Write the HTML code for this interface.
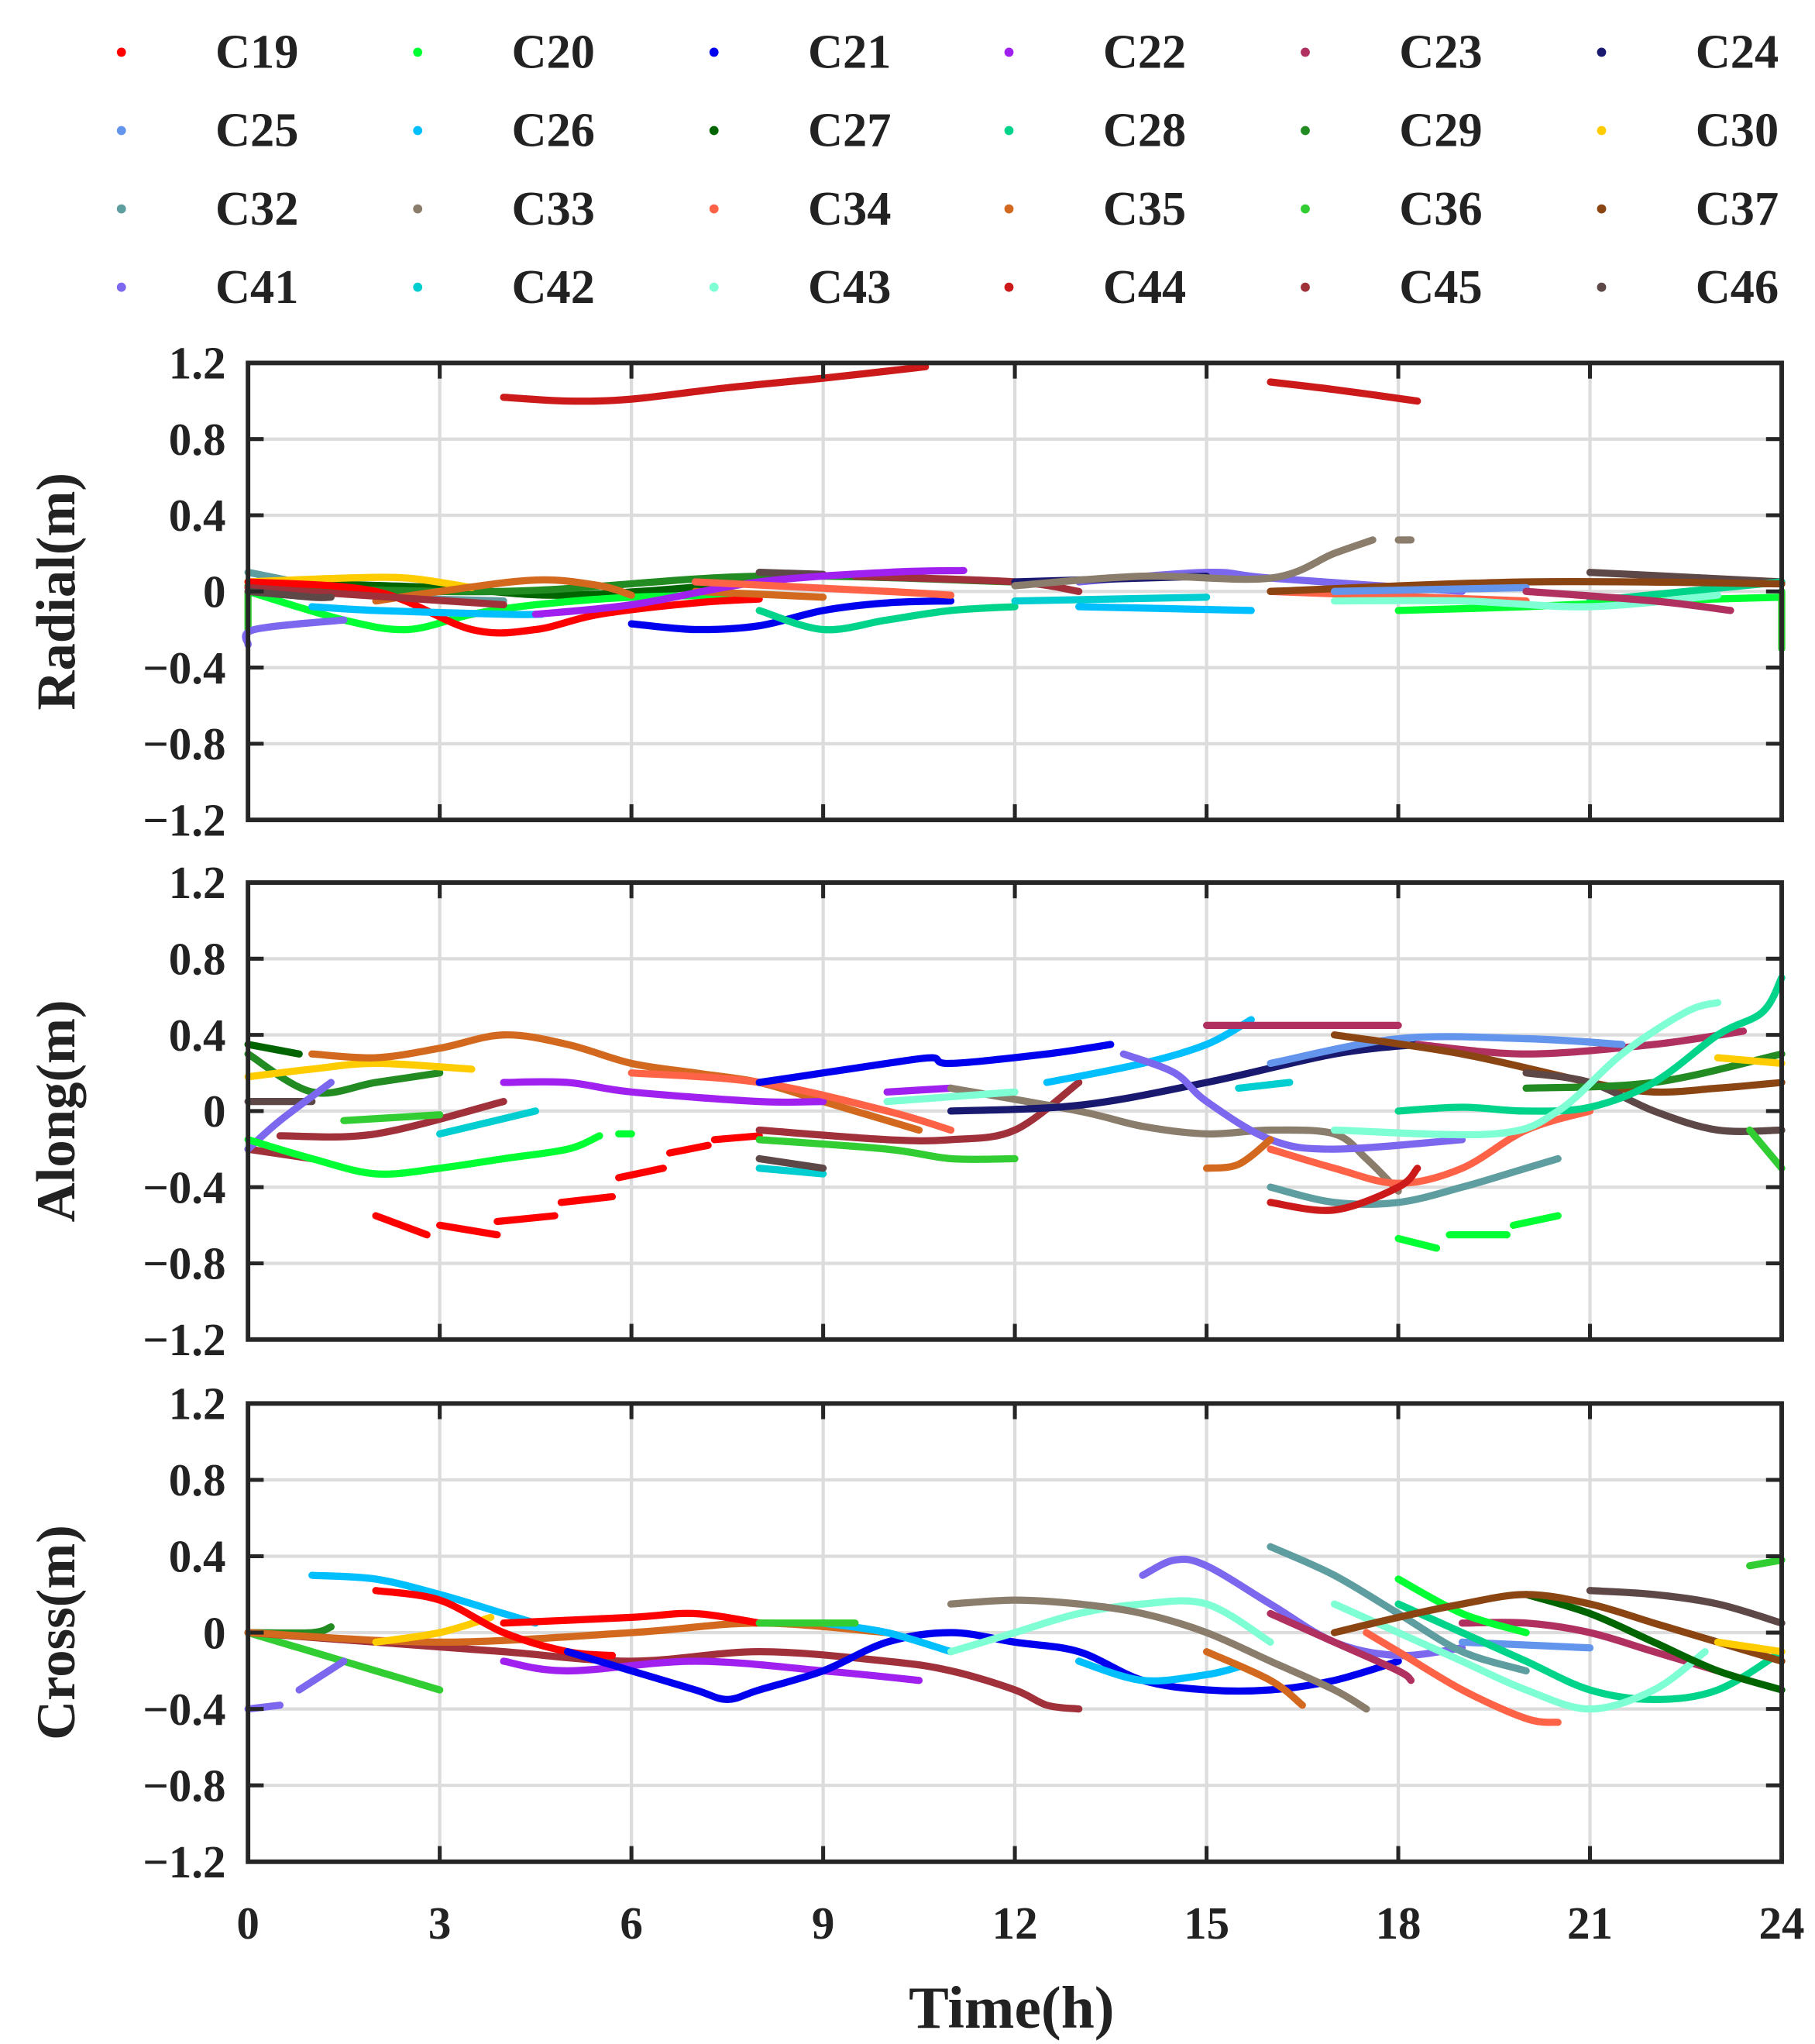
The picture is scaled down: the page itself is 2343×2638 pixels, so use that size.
<!DOCTYPE html>
<html><head><meta charset="utf-8"><style>
html,body{margin:0;padding:0;background:#fff}
svg{display:block}
text{font-family:"Liberation Serif",serif;font-weight:bold;fill:#222}
</style></head><body>
<svg id="s" width="2343" height="2638" viewBox="0 0 1390.5 1565.6" xmlns="http://www.w3.org/2000/svg">
<rect width="1390.5" height="1565.6" fill="#fff"/>
<g id="g"></g>
</svg>
<script>
const NS="http://www.w3.org/2000/svg",g=document.getElementById('g');
function el(t,a,txt){const e=document.createElementNS(NS,t);for(const k in a)e.setAttribute(k,a[k]);if(txt!==undefined)e.textContent=txt;g.appendChild(e);return e;}
const C={C19:'#ff0000',C20:'#00ff33',C21:'#0000ee',C22:'#a020f0',C23:'#b03060',C24:'#191970',C25:'#6495ed',C26:'#00bfff',C27:'#006400',C28:'#00d48a',C29:'#228b22',C30:'#ffcc00',C32:'#5f9ea0',C33:'#8b7d6b',C34:'#ff6347',C35:'#d2691e',C36:'#32cd32',C37:'#8b4513',C41:'#7b68ee',C42:'#00ced1',C43:'#7fffd4',C44:'#cc1a1a',C45:'#a0303a',C46:'#5d4747'};
const names=Object.keys(C);
const colX=[93,320,547,773,1000,1227],rowY=[40,100,160,220];
names.forEach((n,i)=>{const r=Math.floor(i/6),c=i%6;
 el('circle',{cx:colX[c],cy:rowY[r],r:3.5,fill:C[n]});
 el('text',{x:colX[c]+72,y:rowY[r]+12,'font-size':37},n);});
const X0=190,X1=1365;
const panels=[{t:278,b:628,lab:'Radial(m)'},{t:676,b:1026,lab:'Along(m)'},{t:1075,b:1426,lab:'Cross(m)'}];
const ticksY=[1.2,0.8,0.4,0,-0.4,-0.8,-1.2];
const data=[
[['C36',[[0,0],[0,-0.2]]],['C32',[[0,0.1],[2,-0.02],[4,-0.05]]],['C27',[[0,0.05],[3,0.02],[5,-0.02],[8,0.05]]],['C29',[[0,0.03],[4,0],[8,0.08],[12,0.05]]],
['C30',[[0,0.05],[1.5,0.07],[2.5,0.07],[3.5,0.02]]],['C20',[[0,0],[1.5,-0.15],[2.5,-0.2],[3.5,-0.12],[4.5,-0.07],[6,-0.03],[7.5,-0.02]]],
['C19',[[0,0.05],[2,0],[3.5,-0.2],[4.5,-0.2],[5.5,-0.12],[7,-0.06],[8,-0.04]]],['C35',[[2,-0.05],[3,0],[4.5,0.06],[5.5,0.03],[6,-0.02]]],['C35',[[7,0],[9,-0.03]]],
['C26',[[1,-0.08],[2,-0.1],[4,-0.12],[4.6,-0.12]]],['C26',[[13,-0.08],[15.7,-0.1]]],['C41',[[0,-0.28],[0.1,-0.2],[1.5,-0.15]]],['C41',[[13,0.05],[15,0.1],[16,0.07],[19,0]]],
['C45',[[0,0.02],[4,-0.07]]],['C45',[[9.5,0.08],[12,0.05],[13,0]]],['C46',[[0,0],[1,-0.03],[1.3,-0.03]]],['C46',[[8,0.1],[9,0.09]]],['C46',[[21,0.1],[24,0.05]]],
['C22',[[4.5,-0.12],[6,-0.07],[8,0.05],[10,0.1],[11.2,0.11]]],['C21',[[6,-0.17],[7,-0.2],[8,-0.18],[9,-0.1],[10,-0.06],[11,-0.05]]],
['C28',[[8,-0.1],[9,-0.2],[10,-0.15],[11,-0.1],[12,-0.08]]],['C28',[[21,-0.05],[24,0.05]]],['C34',[[7,0.05],[10,0],[11,-0.02]]],['C34',[[16,0],[20,-0.05]]],
['C42',[[12,-0.05],[15,-0.03]]],['C24',[[12,0.05],[15,0.08]]],['C33',[[12,0.03],[14,0.08],[16,0.07],[17,0.2],[17.6,0.27]]],['C33',[[18,0.27],[18.2,0.27]]],
['C37',[[16,0],[20,0.05],[24,0.04]]],['C25',[[17,0],[20,0.02]]],['C20',[[18,-0.1],[20,-0.08],[22,-0.05],[24,-0.03]]],['C43',[[17,-0.05],[19,-0.05],[21,-0.08],[23,-0.02]]],
['C23',[[20,0],[22,-0.05],[23.2,-0.1]]],['C36',[[24,0],[24,-0.3]]],
['C44',[[4,1.02],[5,1.0],[6,1.01],[7.5,1.07],[9,1.12],[10.6,1.18]]],['C44',[[16,1.1],[17,1.06],[18.3,1.0]]]],
[['C27',[[0,0.35],[0.8,0.3]]],['C29',[[0,0.3],[1,0.1],[2,0.15],[3,0.2]]],['C30',[[0,0.18],[1,0.22],[2,0.25],[3.5,0.22]]],['C46',[[0,0.05],[1,0.05]]],
['C45',[[0,-0.2],[1,-0.25]]],['C45',[[0.5,-0.13],[2,-0.12],[4,0.05]]],['C41',[[0,-0.2],[0.5,-0.05],[1.3,0.15]]],['C36',[[1.5,-0.05],[3,-0.02]]],
['C35',[[1,0.3],[2,0.28],[3,0.33],[4,0.4],[5,0.35],[6,0.25],[7,0.2],[8,0.15],[9,0.05],[10,-0.05],[10.5,-0.1]]],
['C20',[[0,-0.15],[1,-0.25],[2,-0.33],[3,-0.3],[4,-0.25],[5,-0.2],[5.5,-0.13]]],['C20',[[5.8,-0.12],[6,-0.12]]],
['C19',[[2,-0.55],[2.8,-0.65]]],['C19',[[3,-0.6],[3.9,-0.65]]],['C19',[[3.9,-0.58],[4.8,-0.55]]],['C19',[[4.9,-0.48],[5.7,-0.45]]],['C19',[[5.8,-0.35],[6.5,-0.3]]],['C19',[[6.6,-0.22],[7.2,-0.18]]],['C19',[[7.3,-0.15],[8,-0.13]]],
['C42',[[3,-0.12],[4.5,0]]],['C42',[[8,-0.3],[9,-0.33]]],['C42',[[15.5,0.12],[16.3,0.15]]],['C22',[[4,0.15],[5,0.15],[6,0.1],[8,0.05],[9,0.05]]],['C22',[[10,0.1],[11,0.12]]],
['C46',[[8,-0.25],[9,-0.3]]],['C36',[[8,-0.15],[10,-0.2],[11,-0.25],[12,-0.25]]],['C45',[[8,-0.1],[10,-0.15],[11,-0.15],[12,-0.1],[13,0.15]]],
['C34',[[6,0.2],[8,0.15],[10,0],[11,-0.1]]],['C21',[[8,0.15],[9,0.2],[10,0.25],[10.7,0.28],[11,0.25],[12.5,0.3],[13.5,0.35]]],
['C33',[[11,0.12],[13,0],[14,-0.08],[15,-0.12],[16,-0.1],[17,-0.12],[17.5,-0.25],[18,-0.42]]],['C24',[[11,0],[13,0.03],[15,0.15],[17,0.3],[18.3,0.35]]],
['C26',[[12.5,0.15],[14,0.25],[15,0.35],[15.7,0.48]]],['C43',[[10,0.05],[12,0.1]]],['C41',[[13.7,0.3],[14.5,0.2],[15,0.05],[16,-0.15],[17,-0.2],[19,-0.15]]],
['C35',[[15,-0.3],[15.5,-0.28],[16,-0.15]]],['C23',[[15,0.45],[18,0.45]]],['C23',[[18.3,0.35],[20,0.3],[22,0.35],[23.4,0.42]]],['C25',[[16,0.25],[18,0.38],[20,0.38],[21.5,0.35]]],
['C32',[[16,-0.4],[17,-0.48],[18,-0.48],[19,-0.4],[20,-0.3],[20.5,-0.25]]],['C34',[[16,-0.2],[17,-0.3],[18,-0.38],[19,-0.3],[20,-0.1],[21,0]]],
['C44',[[16,-0.48],[17,-0.52],[18,-0.4],[18.3,-0.3]]],['C20',[[18,-0.67],[18.6,-0.72]]],['C20',[[18.8,-0.65],[19.7,-0.65]]],['C20',[[19.8,-0.6],[20.5,-0.55]]],
['C37',[[17,0.4],[19,0.3],[21,0.15],[22,0.1],[23,0.12],[24,0.15]]],['C46',[[20,0.2],[21,0.15],[22,0],[23,-0.1],[24,-0.1]]],['C29',[[20,0.12],[22,0.15],[24,0.3]]],
['C28',[[18,0],[19,0.02],[20,0],[21,0.02],[22,0.15],[23,0.4],[23.7,0.52],[24,0.7]]],['C43',[[17,-0.1],[19.5,-0.12],[20.5,0],[21.5,0.3],[22.5,0.52],[23,0.57]]],
['C30',[[23,0.28],[24,0.25]]],['C36',[[23.5,-0.1],[24,-0.3]]]],
[['C29',[[0,0],[1,0],[1.3,0.03]]],['C36',[[0,0],[1,-0.1],[2,-0.2],[3,-0.3]]],['C45',[[0,0],[2,-0.05],[4,-0.1],[6,-0.15],[8,-0.1],[10,-0.15],[11,-0.2],[12,-0.3],[12.5,-0.38],[13,-0.4]]],
['C35',[[0,0],[3,-0.05],[6,0],[8,0.05],[10,0]]],['C41',[[0,-0.4],[0.5,-0.38]]],['C41',[[0.8,-0.3],[1.5,-0.15]]],['C30',[[2,-0.05],[3,0],[3.8,0.08]]],
['C26',[[1,0.3],[2,0.28],[3,0.2],[4,0.1],[4.5,0.05]]],['C19',[[2,0.22],[3,0.17],[4,0],[5,-0.1],[5.7,-0.12]]],['C19',[[4,0.05],[6,0.08],[7,0.1],[8,0.05]]],
['C22',[[4,-0.15],[5,-0.2],[7,-0.15],[9,-0.2],[10.5,-0.25]]],['C21',[[5,-0.1],[6,-0.2],[7,-0.3],[7.5,-0.35],[8,-0.3],[9,-0.2],[10,-0.05],[11,0],[12,-0.05],[13,-0.1],[14,-0.25],[15,-0.3],[16,-0.3],[17,-0.25],[18,-0.15]]],
['C26',[[9,0.05],[10,0],[11,-0.1]]],['C26',[[13,-0.15],[14,-0.25],[15,-0.22],[15.5,-0.18]]],['C36',[[8,0.05],[9.5,0.05]]],
['C43',[[11,-0.1],[12,0],[13,0.1],[14,0.15],[15,0.15],[16,-0.05]]],['C33',[[11,0.15],[12,0.17],[13,0.15],[14,0.1],[15,0],[16,-0.15],[17,-0.3],[17.5,-0.4]]],
['C35',[[15,-0.1],[16,-0.25],[16.5,-0.38]]],['C41',[[14,0.3],[14.5,0.38],[15,0.35],[16,0.15],[17,-0.05],[18,-0.12],[19,-0.08]]],
['C32',[[16,0.45],[17,0.3],[18,0.1],[19,-0.1],[20,-0.2]]],['C23',[[16,0.1],[17,-0.05],[18,-0.2],[18.2,-0.25]]],['C23',[[19,0.05],[20,0.05],[21,0],[22,-0.1],[23,-0.2]]],
['C25',[[19,-0.05],[21,-0.08]]],['C34',[[17.5,0],[18,-0.1],[19,-0.3],[20,-0.45],[20.5,-0.47]]],['C20',[[18,0.28],[19,0.1],[20,0]]],
['C28',[[18,0.15],[19,0],[20,-0.15],[21,-0.3],[22,-0.35],[23,-0.3],[24,-0.1]]],['C43',[[17,0.15],[18,0],[19,-0.15],[20,-0.3],[21,-0.4],[22,-0.3],[22.8,-0.1]]],
['C27',[[20,0.2],[21,0.1],[22,-0.05],[23,-0.2],[24,-0.3]]],['C37',[[17,0],[18,0.08],[19,0.15],[20,0.2],[21,0.15],[22,0.05],[23,-0.05],[24,-0.15]]],
['C46',[[21,0.22],[22,0.2],[23,0.15],[24,0.05]]],['C30',[[23,-0.05],[24,-0.1]]],['C36',[[23.5,0.35],[24,0.38]]]]
];
function smooth(P){
 if(P.length<3)return 'M'+P.map(p=>p[0].toFixed(1)+','+p[1].toFixed(1)).join(' L');
 let d='M'+P[0][0].toFixed(1)+','+P[0][1].toFixed(1);
 for(let i=0;i<P.length-1;i++){const p0=P[Math.max(0,i-1)],p1=P[i],p2=P[i+1],p3=P[Math.min(P.length-1,i+2)];
  const c1=[p1[0]+(p2[0]-p0[0])/6,p1[1]+(p2[1]-p0[1])/6],c2=[p2[0]-(p3[0]-p1[0])/6,p2[1]-(p3[1]-p1[1])/6];
  d+=` C${c1[0].toFixed(1)},${c1[1].toFixed(1)} ${c2[0].toFixed(1)},${c2[1].toFixed(1)} ${p2[0].toFixed(1)},${p2[1].toFixed(1)}`;}
 return d;}
panels.forEach((p,pi)=>{
 const yv=v=>p.b-(v+1.2)/2.4*(p.b-p.t), xv=h=>X0+h/24*(X1-X0);
 for(let h=3;h<24;h+=3)el('line',{x1:xv(h),x2:xv(h),y1:p.t,y2:p.b,stroke:'#dcdcdc','stroke-width':2.5});
 ticksY.slice(1,-1).forEach(v=>el('line',{x1:X0,x2:X1,y1:yv(v),y2:yv(v),stroke:'#dcdcdc','stroke-width':2.5}));
 data[pi].forEach(([n,pts])=>{
  el('path',{d:smooth(pts.map(q=>[xv(q[0]),yv(q[1])])),fill:'none',stroke:C[n],'stroke-width':5.5,'stroke-linecap':'round','stroke-linejoin':'round'});});
 el('rect',{x:X0,y:p.t,width:X1-X0,height:p.b-p.t,fill:'none',stroke:'#262626','stroke-width':3.5});
 for(let h=3;h<24;h+=3){el('line',{x1:xv(h),x2:xv(h),y1:p.b,y2:p.b-12,stroke:'#262626','stroke-width':3});el('line',{x1:xv(h),x2:xv(h),y1:p.t,y2:p.t+12,stroke:'#262626','stroke-width':3});}
 ticksY.forEach(v=>{el('line',{x1:X0,x2:X0+12,y1:yv(v),y2:yv(v),stroke:'#262626','stroke-width':3});el('line',{x1:X1,x2:X1-12,y1:yv(v),y2:yv(v),stroke:'#262626','stroke-width':3});
  el('text',{x:173,y:yv(v)+12,'font-size':35,'text-anchor':'end'},(v<0?'\u2212':'')+(v===0?'0':Math.abs(v).toFixed(1)));});
 const cy=(p.t+p.b)/2;
 el('text',{x:57,y:cy,'font-size':42,'text-anchor':'middle',transform:`rotate(-90 57 ${cy})`},p.lab);
});
[0,3,6,9,12,15,18,21,24].forEach(h=>el('text',{x:X0+h/24*(X1-X0),y:1485,'font-size':35,'text-anchor':'middle'},String(h)));
el('text',{x:775,y:1553,'font-size':46,'text-anchor':'middle'},'Time(h)');
</script>
</body></html>
